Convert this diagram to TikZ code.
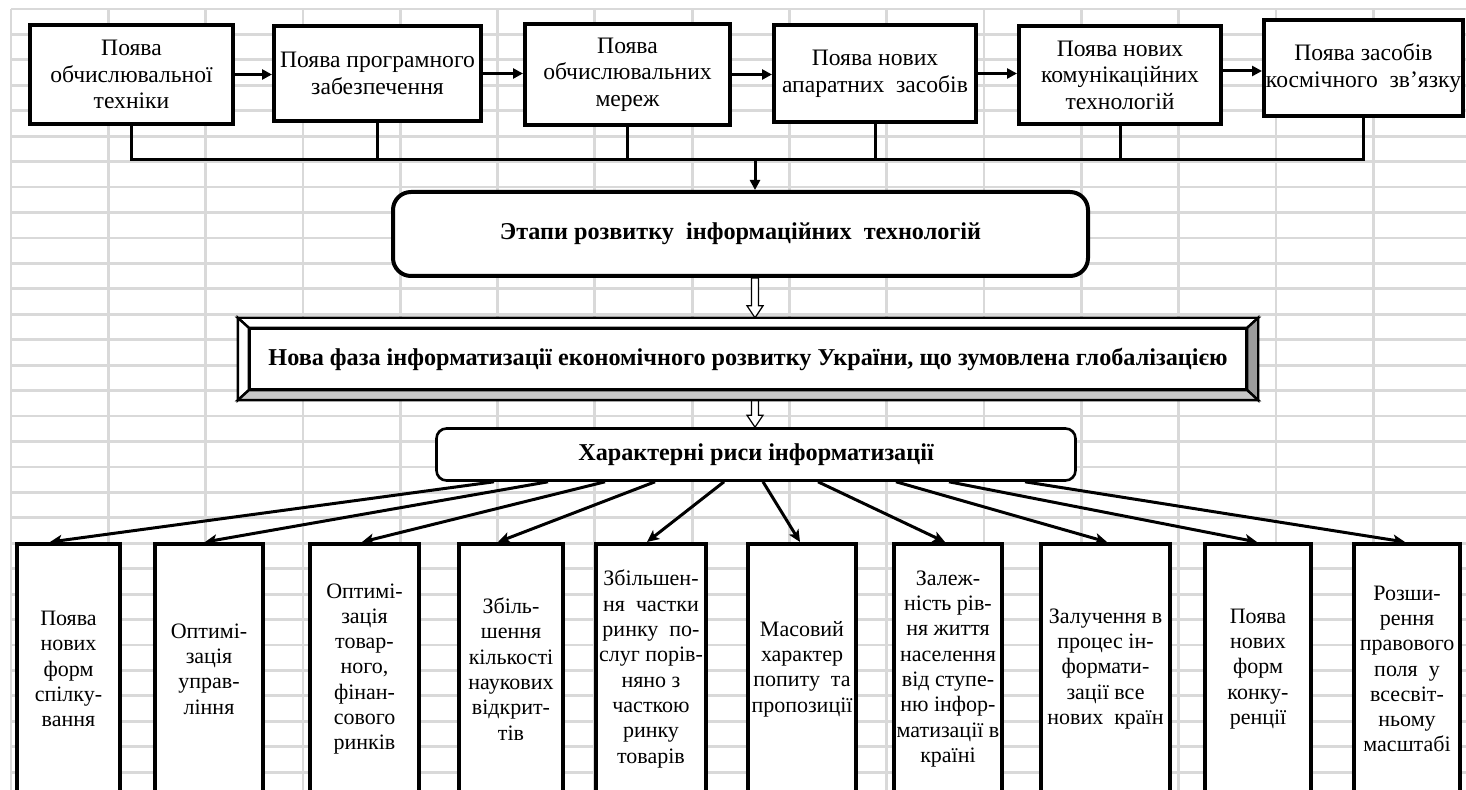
\documentclass[tikz,border=0pt]{standalone}
\usepackage{fontspec}
\setmainfont{Liberation Serif}
\usetikzlibrary{arrows.meta,calc}
\pgfdeclarelayer{gridlayer}
\pgfdeclarelayer{connlayer}
\pgfsetlayers{gridlayer,connlayer,main}
\definecolor{gridgray}{HTML}{D9D9D9}
\definecolor{bevdark}{HTML}{9C9C9C}
\definecolor{bevlight}{HTML}{C8C8C8}
\newcommand\toptxt{\fontsize{11.8}{13.3}\selectfont}
\newcommand\bottxt{\fontsize{11}{12.65}\selectfont}
\newcommand\boldtxt{\fontsize{12.1}{13.5}\selectfont\bfseries}
\newcommand\hollowarrow[2]{\path[hollow] ($(#1)+(-3.5,0)$) -- ($(#2)+(-3.5,-12)$) -- ($(#2)+(-8,-12)$) -- (#2) -- ($(#2)+(8,-12)$) -- ($(#2)+(3.5,-12)$) -- ($(#1)+(3.5,0)$) -- cycle;}
\begin{document}
\begin{tikzpicture}[x=0.5pt,y=-0.5pt,
  gridline/.style={gridgray, line width=1.4pt},
  topbox/.style={draw, line width=2pt, fill=white, align=center, font=\toptxt, inner sep=0pt},
  botbox/.style={draw, line width=2pt, fill=white, align=center, font=\bottxt, inner sep=0pt, minimum height=125pt},
  stagebox/.style={draw, line width=2pt, fill=white, rounded corners=9pt, align=center, font=\boldtxt, inner sep=0pt},
  novabox/.style={draw, line width=1.2pt, fill=white, align=center, font=\boldtxt, inner sep=0pt},
  featbox/.style={draw, line width=1.3pt, fill=white, rounded corners=5pt, align=center, font=\boldtxt, inner sep=0pt},
  toparrow/.style={line width=1.5pt, -{Triangle[length=5pt,width=5pt]}},
  busline/.style={line width=1.5pt},
  fanarrow/.style={line width=1.5pt, -{Stealth[length=6pt,width=5.5pt,inset=1.5pt]}},
  hollow/.style={draw=black, line width=0.6pt, fill=white},
  bevel/.style={draw=black, line width=1.2pt, line join=miter}
]
\useasboundingbox (0,0) rectangle (1466,790);
\clip (0,0) rectangle (1466,790);

% grid
\begin{pgfonlayer}{gridlayer}
\foreach \k in {0,...,14} \draw[gridline] ({11+97.3*\k},9) -- ({11+97.3*\k},790);
\foreach \k in {0,...,30} \draw[gridline] (11,{9+25.44*\k}) -- (1466,{9+25.44*\k});
\end{pgfonlayer}

% top row
\node[topbox, minimum width=101.5pt, minimum height=49.5pt] (t1) at (131.5,74.5) {Поява\\обчислювальної\\техніки};
\node[topbox, minimum width=103.5pt, minimum height=47.5pt] (t2) at (377.5,73.5) {Поява програмного\\забезпечення};
\node[topbox, minimum width=102.5pt, minimum height=50.5pt] (t3) at (627.5,74.5) {Поява\\обчислювальних\\мереж};
\node[topbox, minimum width=101pt, minimum height=48.5pt] (t4) at (875,73.5) {Поява нових\\апаратних~ засобів};
\node[topbox, minimum width=101pt, minimum height=49pt] (t5) at (1120,75) {Поява нових\\комунікаційних\\технологій};
\node[topbox, minimum width=99.5pt, minimum height=48pt] (t6) at (1363.5,68) {Поява засобів\\космічного~ зв’язку};

\coordinate (bus) at (0,160);
\coordinate (ax) at (755,0);

% stages
\node[stagebox, minimum width=347.5pt, minimum height=42pt] (etapy) at (740.5,234) {\raisebox{1.5pt}{Этапи розвитку~ інформаційних~ технологій}};

% new phase
\node[novabox, minimum width=498pt, minimum height=30pt] (nova) at (748,359) {Нова фаза інформатизації економічного розвитку України, що зумовлена глобалізацією};
\coordinate (nTL) at ($(nova.north west)+(-11,-10)$);
\coordinate (nTR) at ($(nova.north east)+(11,-10)$);
\coordinate (nBL) at ($(nova.south west)+(-11,10)$);
\coordinate (nBR) at ($(nova.south east)+(11,10)$);
\filldraw[bevel, fill=white] (nTL) -- (nTR) -- (nova.north east) -- (nova.north west) -- cycle;
\filldraw[bevel, fill=white] (nTL) -- (nova.north west) -- (nova.south west) -- (nBL) -- cycle;
\filldraw[bevel, fill=bevdark] (nTR) -- (nBR) -- (nova.south east) -- (nova.north east) -- cycle;
\filldraw[bevel, fill=bevlight] (nBL) -- (nBR) -- (nova.south east) -- (nova.south west) -- cycle;

% features
\node[featbox, minimum width=319.5pt, minimum height=26pt] (har) at (756,454.5) {\raisebox{-1.5pt}{Характерні риси інформатизації}};

% bottom row
\node[botbox, minimum width=51.5pt] (c1) at (68.5,669) {Поява\\нових\\форм\\спілку-\\вання};
\node[botbox, minimum width=54pt] (c2) at (209,669) {Оптимі-\\зація\\управ-\\ління};
\node[botbox, minimum width=54.5pt] (c3) at (364.5,669) {Оптимі-\\зація\\товар-\\ного,\\фінан-\\сового\\ринків};
\node[botbox, minimum width=52pt] (c4) at (511,669) {Збіль-\\шення\\кількості\\наукових\\відкрит-\\тів};
\node[botbox, minimum width=55pt] (c5) at (651,669) {Збільшен-\\ня~ частки\\ринку~ по-\\слуг порів-\\няно з\\часткою\\ринку\\товарів};
\node[botbox, minimum width=54pt] (c6) at (802,669) {Масовий\\характер\\попиту~ та\\пропозиції};
\node[botbox, minimum width=54pt] (c7) at (948,669) {Залеж-\\ність рів-\\ня життя\\населення\\від ступе-\\ню інфор-\\матизації в\\країні};
\node[botbox, minimum width=64.5pt] (c8) at (1105.5,669) {Залучення в\\процес ін-\\формати-\\зації все\\нових~ країн};
\node[botbox, minimum width=53pt] (c9) at (1258,669) {Поява\\нових\\форм\\конку-\\ренції};
\node[botbox, minimum width=53pt] (c10) at (1407,669) {Розши-\\рення\\правового\\поля~ у\\всесвіт-\\ньому\\масштабі};

\coordinate (h1s) at (ax |- etapy.south);
\coordinate (h1t) at (ax |- nTL);
\coordinate (h2s) at (ax |- nBL);
\coordinate (h2t) at (ax |- har.north);

\begin{pgfonlayer}{connlayer}
% top chain
\draw[toparrow] (t1.east) -- (t1.east -| t2.west);
\draw[toparrow] (t2.east) -- (t2.east -| t3.west);
\draw[toparrow] (t3.east) -- (t3.east -| t4.west);
\draw[toparrow] (t4.east) -- (t4.east -| t5.west);
\draw[toparrow] ($(t5.east)+(0,-4)$) -- ($(t5.east -| t6.west)+(0,-4)$);
% bus
\draw[busline] (t1.south) -- (t1.south |- bus) -- (t6.south |- bus) -- (t6.south);
\draw[busline] (t2.south) -- (t2.south |- bus);
\draw[busline] (t3.south) -- (t3.south |- bus);
\draw[busline] (t4.south) -- (t4.south |- bus);
\draw[busline] (t5.south) -- (t5.south |- bus);
\draw[toparrow] (ax |- bus) -- (ax |- etapy.north);
% hollow arrows
\hollowarrow{h1s}{h1t}
\hollowarrow{h2s}{h2t}
% fan
\draw[fanarrow] ($(har.south)+(-262,0)$) -- ($(c1.north)+(-18.5,0)$);
\draw[fanarrow] ($(har.south)+(-208,0)$) -- ($(c2.north)+(-4,0)$);
\draw[fanarrow] ($(har.south)+(-151,0)$) -- ($(c3.north)+(-2.5,0)$);
\draw[fanarrow] ($(har.south)+(-101,0)$) -- ($(c4.north)+(-13,0)$);
\draw[fanarrow] ($(har.south)+(-32,0)$) -- ($(c5.north)+(-4,0)$);
\draw[fanarrow] ($(har.south)+(7,0)$) -- ($(c6.north)+(-2,0)$);
\draw[fanarrow] ($(har.south)+(62,0)$) -- ($(c7.north)+(-3,0)$);
\draw[fanarrow] ($(har.south)+(140,0)$) -- ($(c8.north)+(1.5,0)$);
\draw[fanarrow] ($(har.south)+(193,0)$) -- ($(c9.north)+(-1,0)$);
\draw[fanarrow] ($(har.south)+(269,0)$) -- ($(c10.north)+(-2,0)$);
\end{pgfonlayer}
\end{tikzpicture}
\end{document}
